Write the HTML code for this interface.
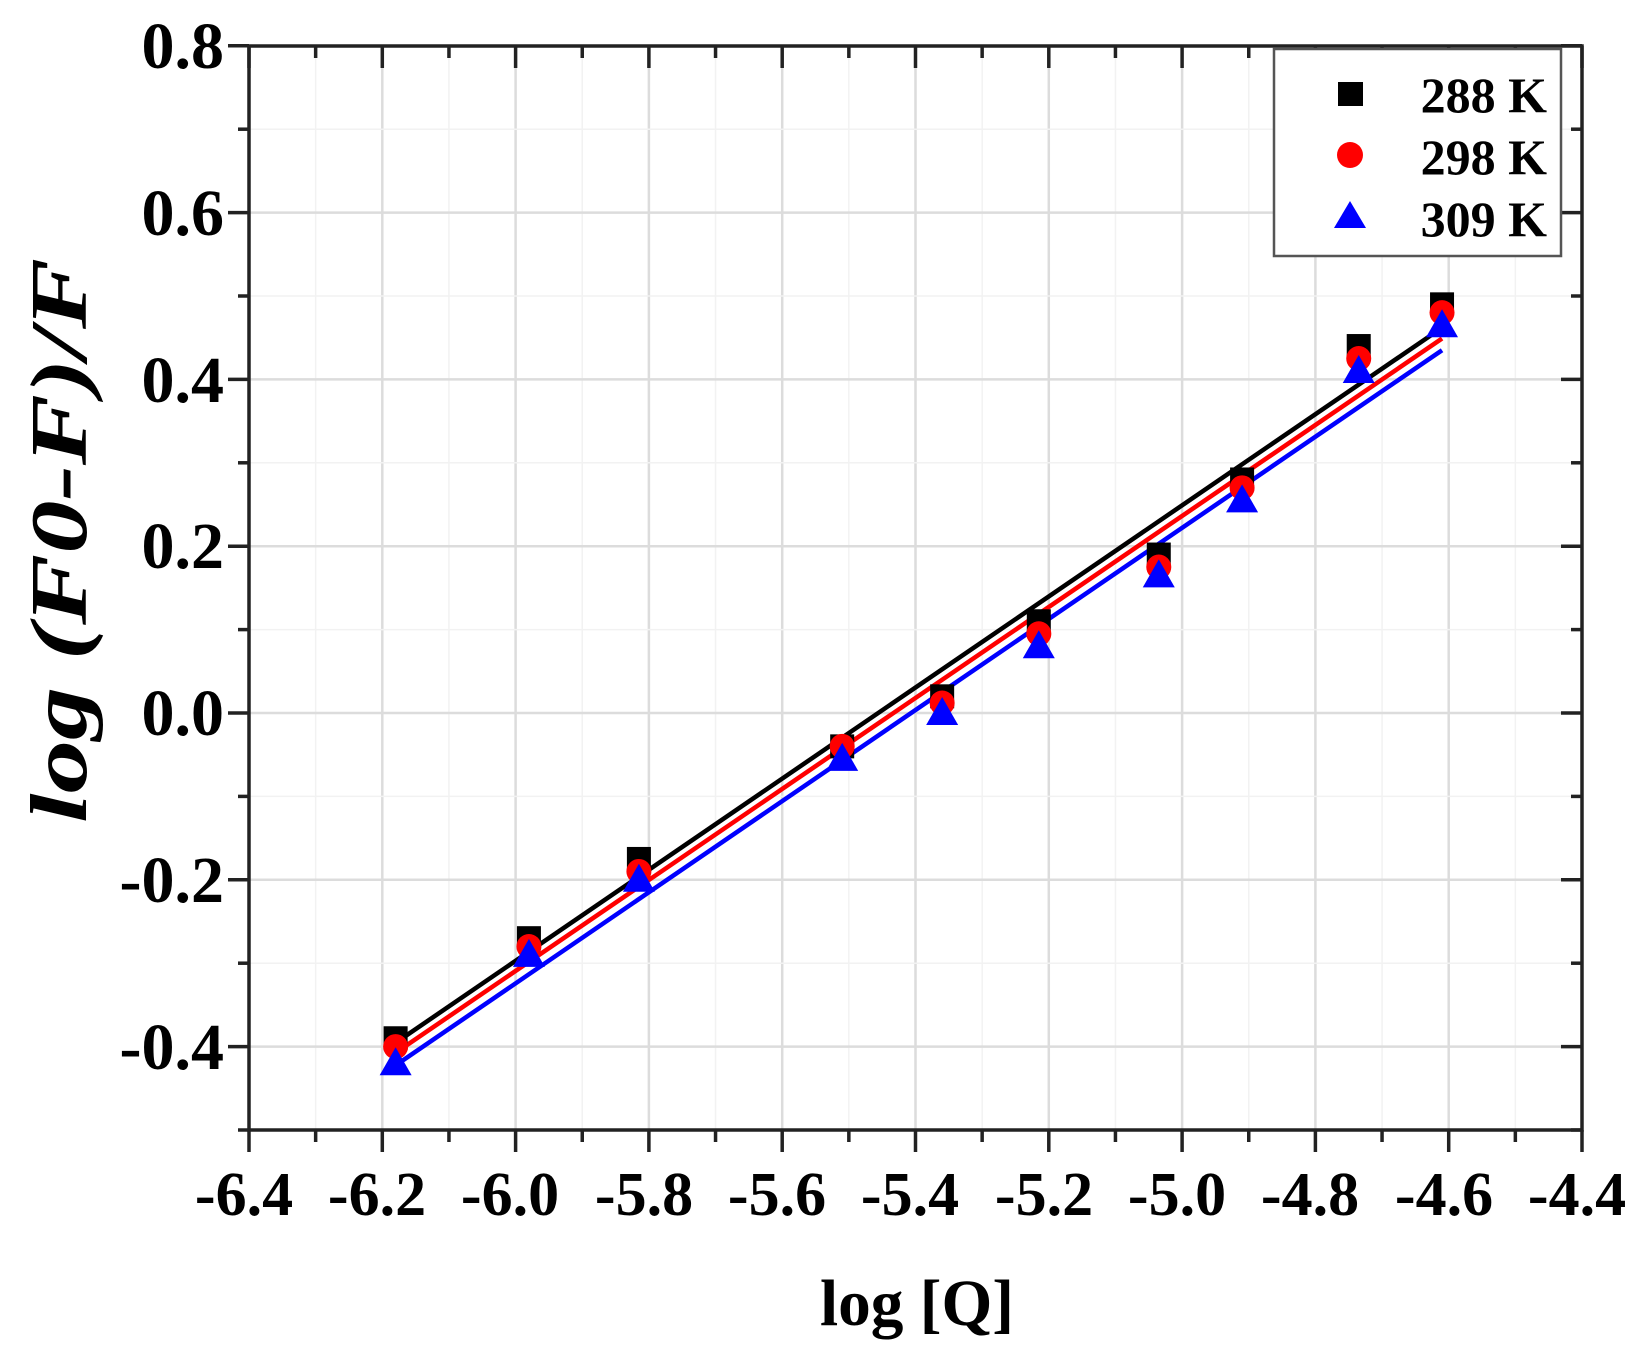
<!DOCTYPE html>
<html><head><meta charset="utf-8"><style>
html,body{margin:0;padding:0;background:#fff;}
svg{display:block;}
text{font-family:"Liberation Serif",serif;font-weight:bold;fill:#000;}
</style></head><body>
<svg id="s" width="1650" height="1364" viewBox="0 0 1650 1364" xmlns="http://www.w3.org/2000/svg">
<g id="grid"></g>
<g id="fits"></g>
<g id="pts"></g>
<g id="axes"></g>
<g font-size="66" text-anchor="end">
<text x="224" y="68">0.8</text>
<text x="224" y="235">0.6</text>
<text x="224" y="402">0.4</text>
<text x="224" y="568">0.2</text>
<text x="224" y="735">0.0</text>
<text x="224" y="902">-0.2</text>
<text x="224" y="1069">-0.4</text>
</g>
<g font-size="62" text-anchor="middle">
<text x="244" y="1215">-6.4</text>
<text x="377" y="1215">-6.2</text>
<text x="510" y="1215">-6.0</text>
<text x="644" y="1215">-5.8</text>
<text x="777" y="1215">-5.6</text>
<text x="910" y="1215">-5.4</text>
<text x="1044" y="1215">-5.2</text>
<text x="1177" y="1215">-5.0</text>
<text x="1310" y="1215">-4.8</text>
<text x="1444" y="1215">-4.6</text>
<text x="1577" y="1215">-4.4</text>
</g>
<text x="820" y="1325" font-size="66" textLength="194" lengthAdjust="spacingAndGlyphs">log [Q]</text>
<text transform="translate(86,823) rotate(-90)" font-size="80" font-style="italic" textLength="565" lengthAdjust="spacingAndGlyphs">log (F0-F)/F</text>
<rect x="1274" y="49" width="287" height="207" fill="#fff" stroke="#555" stroke-width="2.5"/>
<rect x="1338" y="82" width="25" height="24" fill="#000"/>
<circle cx="1350" cy="155" r="13" fill="#f00"/>
<polygon points="1350,201 1366,228 1334,228" fill="#00f"/>
<g font-size="50" text-anchor="end">
<text x="1547" y="112">288 K</text>
<text x="1547" y="174">298 K</text>
<text x="1547" y="236">309 K</text>
</g>
</svg>
<script>
var NS="http://www.w3.org/2000/svg";
function X(v){return 249+(v+6.4)*666.5;}
function Y(v){return 713-v*834;}
function el(p,t,a){var e=document.createElementNS(NS,t);for(var k in a)e.setAttribute(k,a[k]);document.getElementById(p).appendChild(e);return e;}
var L=249,R=1582,T=46,B=1130;
for(var i=0;i<=20;i++){var x=X(-6.4+i*0.1);var maj=i%2==0;
 if(i>0&&i<20) el("grid","line",{x1:x,x2:x,y1:T,y2:B,stroke:maj?"#dcdcdc":"#f2f2f2","stroke-width":maj?2.5:1.5});}
for(var j=-5;j<=8;j++){var y=Y(j/10);var maj=(j%2==0);
 if(j>-5&&j<8) el("grid","line",{x1:L,x2:R,y1:y,y2:y,stroke:maj?"#dcdcdc":"#f2f2f2","stroke-width":maj?2.5:1.5});}
el("axes","rect",{x:L,y:T,width:R-L,height:B-T,fill:"none",stroke:"#222","stroke-width":3.5});
for(var i=0;i<=20;i++){var x=X(-6.4+i*0.1);var len=(i%2==0)?22:12;
 el("axes","line",{x1:x,x2:x,y1:B,y2:B+len,stroke:"#222","stroke-width":3.5});
 el("axes","line",{x1:x,x2:x,y1:T,y2:T+len,stroke:"#222","stroke-width":3.5});}
for(var j=-5;j<=8;j++){var y=Y(j/10);var len=(j%2==0)?21:11;
 el("axes","line",{x1:L-len,x2:L,y1:y,y2:y,stroke:"#222","stroke-width":3.5});
 el("axes","line",{x1:R-len,x2:R,y1:y,y2:y,stroke:"#222","stroke-width":3.5});}
el("fits","line",{x1:X(-6.17),y1:Y(-0.39),x2:X(-4.61),y2:Y(0.462),stroke:"#000","stroke-width":4.5});
el("fits","line",{x1:X(-6.17),y1:Y(-0.402),x2:X(-4.61),y2:Y(0.449),stroke:"#f00","stroke-width":4.5});
el("fits","line",{x1:X(-6.17),y1:Y(-0.417),x2:X(-4.61),y2:Y(0.435),stroke:"#00f","stroke-width":4.5});
var xs=[-6.18,-5.98,-5.815,-5.51,-5.36,-5.215,-5.035,-4.91,-4.735,-4.61];
var a=[-0.39,-0.27,-0.175,-0.04,0.02,0.11,0.19,0.28,0.44,0.49];
var b=[-0.40,-0.28,-0.19,-0.04,0.012,0.095,0.175,0.27,0.425,0.48];
var c=[-0.42,-0.29,-0.20,-0.055,0.0,0.08,0.165,0.255,0.41,0.465];
for(var k=0;k<10;k++){var x=X(xs[k]);
 el("pts","rect",{x:x-12,y:Y(a[k])-12,width:24,height:24,fill:"#000"});
 el("pts","circle",{cx:x,cy:Y(b[k]),r:12.5,fill:"#f00"});
 var y=Y(c[k]);el("pts","polygon",{points:(x)+","+(y-16)+" "+(x+16)+","+(y+12)+" "+(x-16)+","+(y+12),fill:"#00f"});}
</script>
</body></html>
